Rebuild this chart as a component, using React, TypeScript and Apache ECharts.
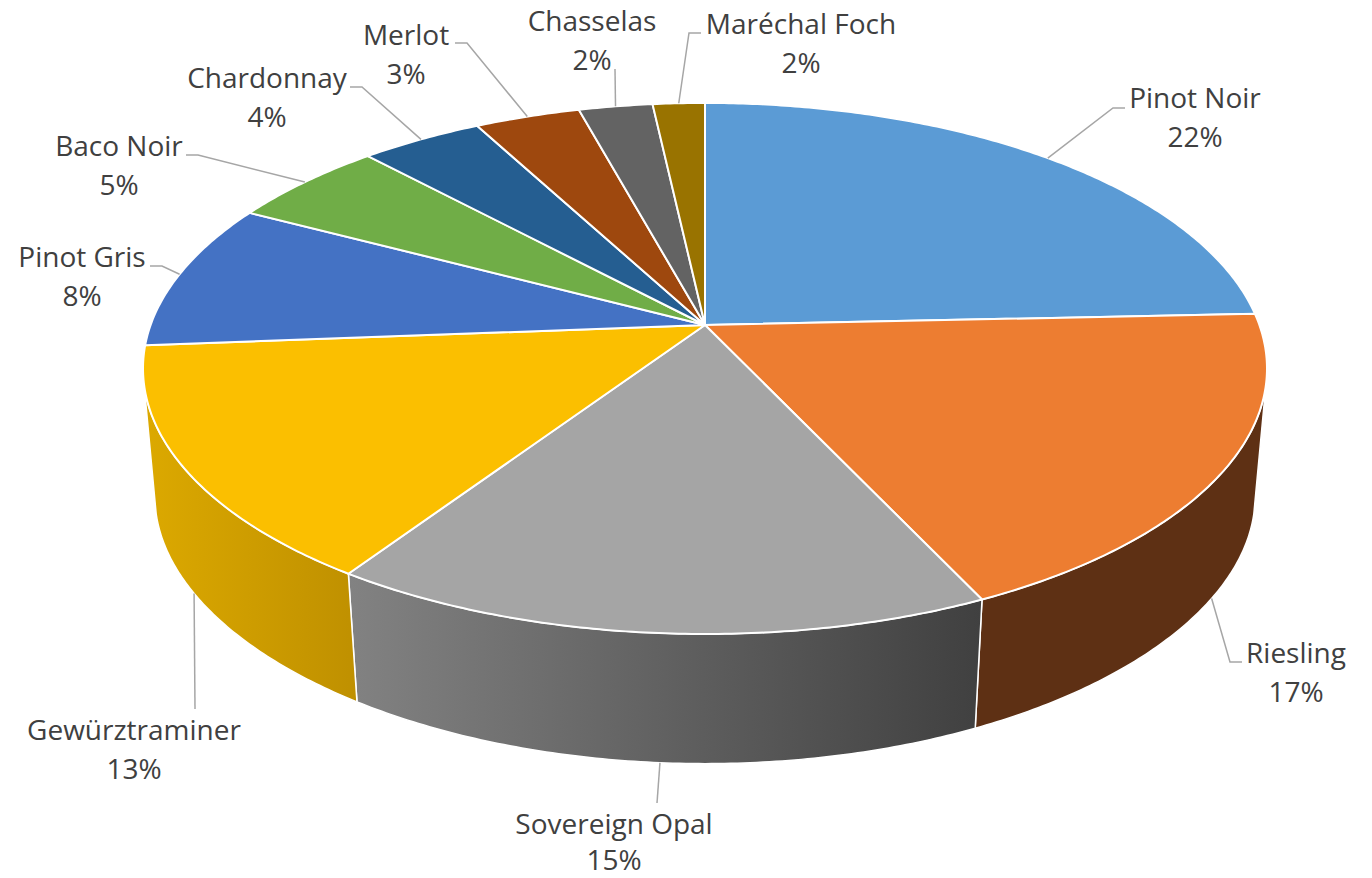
import React, { useEffect, useRef } from "react";
import * as echarts from "echarts";

const categories = ["Pinot Noir", "Riesling", "Sovereign Opal", "Gewürztraminer", "Pinot Gris", "Baco Noir", "Chardonnay", "Merlot", "Chasselas", "Maréchal Foch"];
const shares = [22.16, 17.05, 14.93, 13.12, 8.18, 4.87, 3.76, 3.24, 2.27, 1.6];

const faceColors = ["#5B9BD5", "#ED7D31", "#A5A5A5", "#FBBF00", "#4472C4", "#70AD47", "#255E91", "#9E480E", "#636363", "#997300"];
const wallStops = [
  ["#3A6C9C", "#3A6C9C"], ["#5E3014", "#5E3014"], ["#828282", "#404040"], ["#DCA900", "#BF9000"],
  ["#2A4A80", "#2A4A80"], ["#4A7530", "#4A7530"], ["#173C5E", "#173C5E"], ["#652E08", "#652E08"], ["#404040", "#404040"], ["#634A00", "#634A00"],
];
const labelCenters = [[1195, 117], [1296, 672], [614, 843], [134, 749], [82, 276], [119, 165], [267, 97], [406, 54], [592, 40], [801, 43]];
const leaderElbows = [
  [[1113, 108], [1125, 108]], [[1230, 662], [1242, 662]], [[657, 803]], [[195, 709]],
  [[162, 266], [150, 266]], [[198, 155], [186, 155]], [[362, 87], [350, 87]],
  [[467, 43], [455, 43]], [[615, 69]], [[689, 33], [701, 33]],
];

const TOP = { cx: 705, cy: 325, A: 258.4, B: 554.4, k: 0.1638, kx: 0.1638 };
const BOTTOM = { cx: 705, cy: 455, A: 250, B: 543, k: 0.19, kx: 0.16 };
const WALL_FROM = (103 / 180) * Math.PI;
const WALL_TO = (257 / 180) * Math.PI;
const LAST_TEXT_Y = 859;

const total = shares.reduce((a, b) => a + b, 0);
const starts: number[] = [];
shares.reduce((acc, v, i) => {
  starts[i] = acc;
  return acc + v;
}, 0);
const toAngle = (v: number) => (v / total) * 2 * Math.PI;

function rim(p: typeof TOP, t: number): number[] {
  const s = Math.sin(t);
  const c = Math.cos(t);
  return [p.cx + (p.B * s) / (1 + p.kx * c), p.cy - (p.A * c) / (1 + p.k * c)];
}
function arc(p: typeof TOP, a: number, b: number): number[][] {
  const n = Math.max(2, Math.ceil((b - a) / 0.01));
  const pts: number[][] = [];
  for (let i = 0; i <= n; i++) pts.push(rim(p, a + ((b - a) * i) / n));
  return pts;
}

const FONT = '"Open Sans", sans-serif';

const renderWall = (params: any, api: any) => {
  const i = params.dataIndex;
  const a0 = toAngle(starts[i]);
  const a = Math.max(a0, WALL_FROM);
  const b = Math.min(a0 + toAngle(api.value(0)), WALL_TO);
  if (b <= a) return null;
  const pts = arc(TOP, a, b).concat(arc(BOTTOM, a, b).reverse());
  const [c0, c1] = wallStops[i];
  return {
    type: "polygon",
    shape: { points: pts },
    style: {
      fill: new echarts.graphic.LinearGradient(0, 0, 1, 0, [
        { offset: 0, color: c0 },
        { offset: 1, color: c1 },
      ]),
      stroke: "#ffffff",
      lineWidth: 1.5,
    },
  };
};

const renderFace = (params: any, api: any) => {
  const i = params.dataIndex;
  const a = toAngle(starts[i]);
  const b = a + toAngle(api.value(0));
  const pts = [[TOP.cx, TOP.cy]].concat(arc(TOP, a, b));
  return {
    type: "polygon",
    shape: { points: pts },
    style: { fill: faceColors[i], stroke: "#ffffff", lineWidth: 2, lineJoin: "round" },
  };
};

const labelLine = (text: string, x: number, y: number) => ({
  type: "text",
  x,
  y,
  style: {
    text,
    x: 0,
    y: 0,
    align: "center",
    verticalAlign: "middle",
    font: `28px ${FONT}`,
    fill: "#404040",
  },
});

const renderLabel = (params: any, api: any) => {
  const i = params.dataIndex;
  const v = api.value(0);
  const a = toAngle(starts[i]);
  const b = a + toAngle(v);
  const mid = (a + b) / 2;
  const p = Math.cos(mid) < 0 ? BOTTOM : TOP;
  let start = rim(p, mid);
  const elbows = leaderElbows[i];
  if (elbows.length === 1) {
    // a straight vertical leader meets the slice's rim at its own x
    start = arc(p, a, b).reduce((best, q) =>
      Math.abs(q[0] - elbows[0][0]) < Math.abs(best[0] - elbows[0][0]) ? q : best
    );
  }
  const [lx, ly] = labelCenters[i];
  return {
    type: "group",
    children: [
      {
        type: "polyline",
        shape: { points: [start].concat(elbows) },
        style: { fill: "none", stroke: "#A6A6A6", lineWidth: 1.5 },
      },
      labelLine(categories[i], lx, ly - 20),
      labelLine(`${Math.round(v)}%`, lx, Math.min(ly + 19, LAST_TEXT_Y)),
    ],
  };
};

export default function App() {
  const ref = useRef<HTMLDivElement>(null);
  useEffect(() => {
    const chart = echarts.init(ref.current!, undefined, { renderer: "svg" });
    const data = shares.map((v, i) => ({ name: categories[i], value: [v] }));
    chart.setOption({
      animation: false,
      backgroundColor: "#ffffff",
      series: [
        { type: "custom", coordinateSystem: "none", name: "walls", renderItem: renderWall, data, silent: true, z: 1 },
        { type: "custom", coordinateSystem: "none", name: "faces", renderItem: renderFace, data, silent: true, z: 2 },
        { type: "custom", coordinateSystem: "none", name: "labels", renderItem: renderLabel, data, silent: true, z: 3 },
      ],
    });
    return () => chart.dispose();
  }, []);
  return <div ref={ref} style={{ position: "fixed", left: 0, top: 0, width: 1372, height: 878 }} />;
}
